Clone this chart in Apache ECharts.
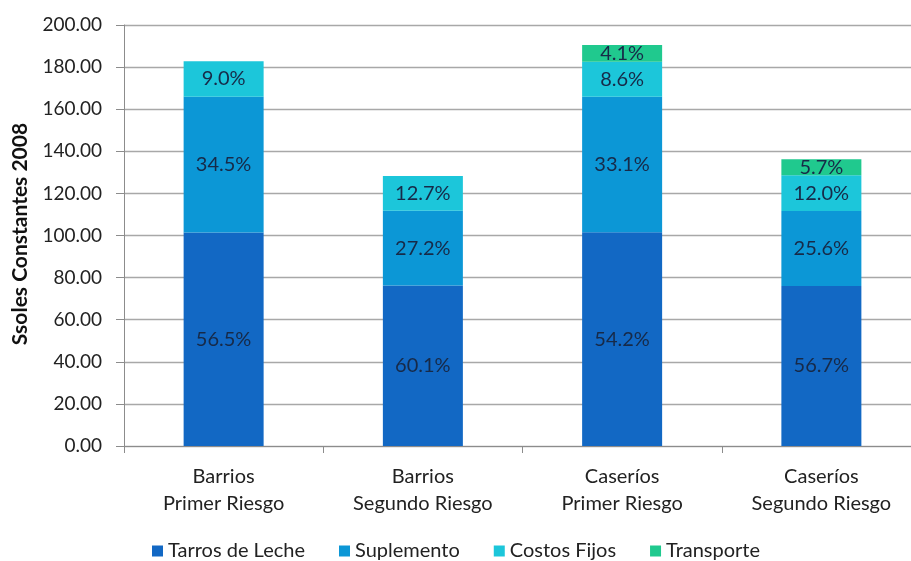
<!DOCTYPE html>
<html>
<head>
<meta charset="utf-8">
<script src="https://cdn.jsdelivr.net/npm/echarts@6/dist/echarts.min.js"></script>
<style>
html,body{margin:0;padding:0;background:#fff;overflow:hidden;}
#c{width:921px;height:561px;}
</style>
</head>
<body>
<div id="c"></div>
<script>
var categories = ['Barrios\nPrimer Riesgo', 'Barrios\nSegundo Riesgo', 'Caseríos\nPrimer Riesgo', 'Caseríos\nSegundo Riesgo'];
var tarros = [101.4, 76.2, 101.5, 76.0];
var suplemento = [64.5, 35.6, 64.4, 35.6];
var costos = [16.9, 16.5, 16.7, 17.0];
var transporte = ['-', '-', 7.9, 7.6];
var tarrosPct = ['56.5%', '60.1%', '54.2%', '56.7%'];
var suplementoPct = ['34.5%', '27.2%', '33.1%', '25.6%'];
var costosPct = ['9.0%', '12.7%', '8.6%', '12.0%'];
var transportePct = ['', '', '4.1%', '5.7%'];
var yTicks = [0, 20, 40, 60, 80, 100, 120, 140, 160, 180, 200];

var FONT = 'Lato';
var labelColor = '#172a48';

function seg(name, data, pcts, color) {
  return {
    name: name,
    type: 'bar',
    stack: 'total',
    barWidth: 80,
    data: data,
    itemStyle: { color: color },
    label: {
      show: true,
      position: 'inside',
      fontFamily: FONT,
      fontSize: 20,
      color: labelColor,
      formatter: function (p) { return pcts[p.dataIndex]; }
    }
  };
}

var chart = echarts.init(document.getElementById('c'));
chart.setOption({
  animation: false,
  backgroundColor: '#fff',
  textStyle: { fontFamily: FONT },
  grid: { left: 124, top: 25, right: 0, height: 421, containLabel: false },
  legend: {
    top: 536,
    left: 147,
    itemWidth: 11,
    itemHeight: 11,
    itemGap: 34,
    icon: 'rect',
    textStyle: { fontFamily: FONT, fontSize: 20, color: '#222' },
    data: ['Tarros de Leche', 'Suplemento', 'Costos Fijos', 'Transporte']
  },
  xAxis: {
    type: 'category',
    data: categories,
    axisLine: { show: true, lineStyle: { color: '#8c8c8c', width: 1 } },
    axisTick: { show: true, length: 7, lineStyle: { color: '#8c8c8c' } },
    axisLabel: { fontFamily: FONT, fontSize: 20, color: '#222', lineHeight: 27, margin: 17 }
  },
  yAxis: {
    type: 'value',
    min: yTicks[0],
    max: yTicks[yTicks.length - 1],
    interval: yTicks[1] - yTicks[0],
    axisLine: { show: true, lineStyle: { color: '#8c8c8c', width: 1 } },
    axisTick: { show: true, length: 8, lineStyle: { color: '#8c8c8c' } },
    splitLine: { show: true, lineStyle: { color: '#a8a8a8', width: 1.3 } },
    axisLabel: {
      fontFamily: FONT, fontSize: 19, color: '#222', margin: 22,
      formatter: function (v) { return v.toFixed(2); }
    }
  },
  graphic: [{
    type: 'text',
    x: 20,
    y: 234,
    rotation: Math.PI / 2,
    style: {
      text: 'Ssoles Constantes 2008',
      font: 'bold 21px ' + FONT,
      fill: '#111',
      textAlign: 'center',
      textVerticalAlign: 'middle'
    }
  }],
  series: [
    seg('Tarros de Leche', tarros, tarrosPct, '#1268c4'),
    seg('Suplemento', suplemento, suplementoPct, '#0c97d6'),
    seg('Costos Fijos', costos, costosPct, '#1cc6da'),
    seg('Transporte', transporte, transportePct, '#20c98e')
  ]
});
</script>
</body>
</html>
